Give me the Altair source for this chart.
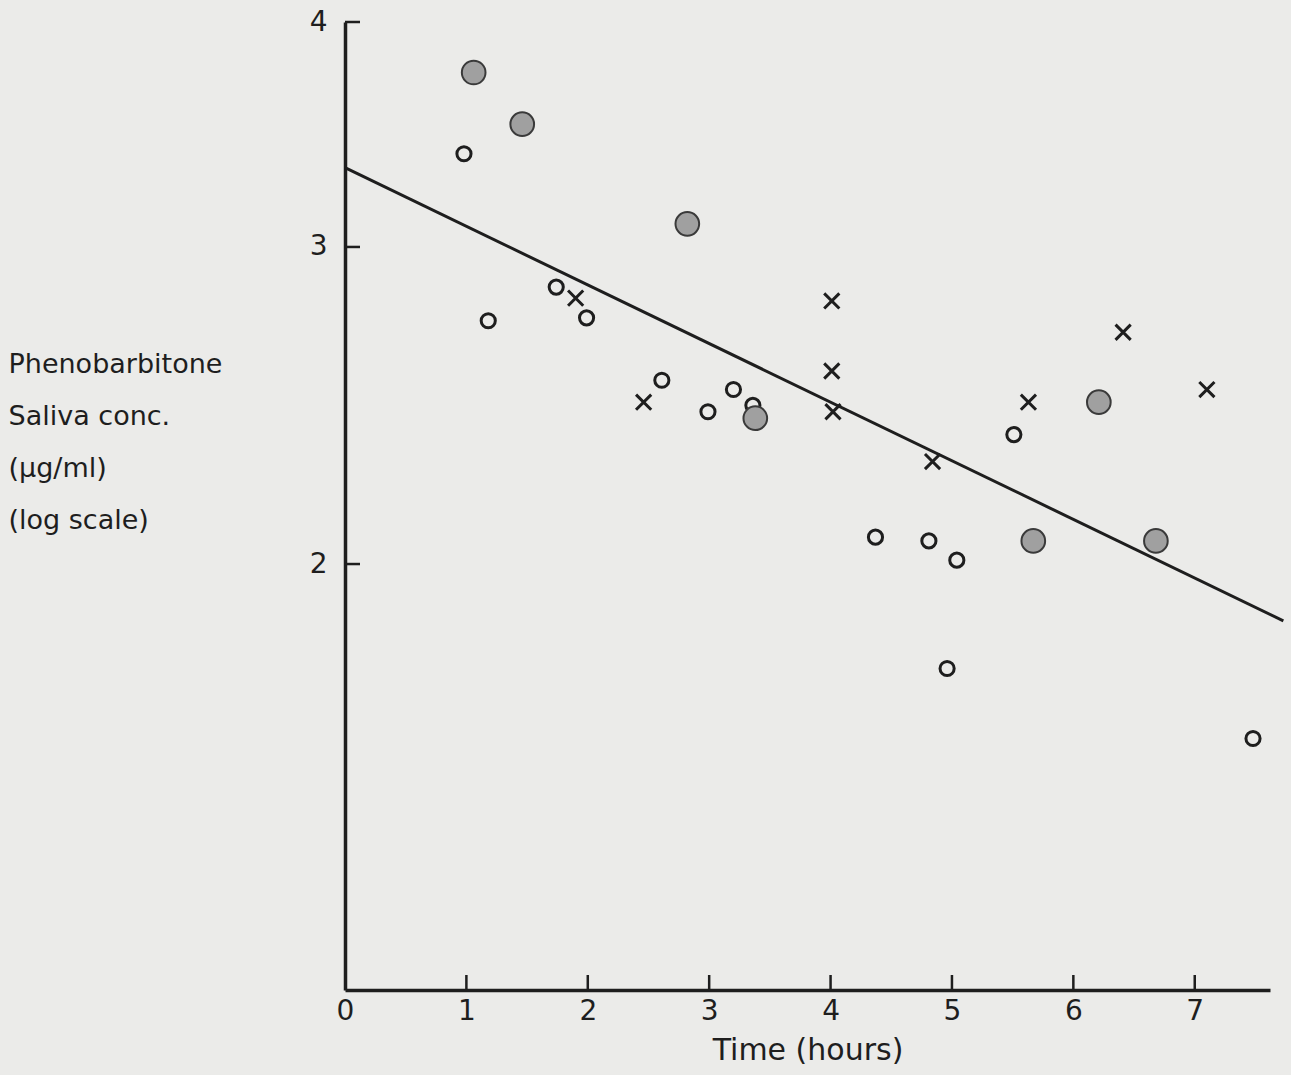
import altair as alt
import pandas as pd

# Saliva phenobarbitone concentration against time, three groups of subjects
filled_t = [1.06, 1.46, 2.82, 3.38, 5.67, 6.21, 6.68]
filled_c = [3.75, 3.51, 3.09, 2.41, 2.06, 2.46, 2.06]

open_t = [0.98, 1.18, 1.74, 1.99, 2.61, 2.99, 3.20, 3.36, 4.37, 4.81, 4.96, 5.04, 5.51, 7.48]
open_c = [3.38, 2.73, 2.85, 2.74, 2.53, 2.43, 2.50, 2.45, 2.07, 2.06, 1.75, 2.01, 2.36, 1.60]

cross_t = [1.90, 2.46, 4.01, 4.01, 4.02, 4.84, 5.63, 6.41, 7.10]
cross_c = [2.81, 2.46, 2.80, 2.56, 2.43, 2.28, 2.46, 2.69, 2.50]

# fitted regression line (straight on the log scale)
fit_t = [0.0, 7.73]
fit_c = [3.32, 1.86]

x_ticks = [0, 1, 2, 3, 4, 5, 6, 7]
x_tick_marks = [1, 2, 3, 4, 5, 6, 7]
y_ticks = [2, 3, 4]
y_title = ["Phenobarbitone", "Saliva conc.", "(\u00b5g/ml)", "(log scale)"]

INK = "#1e1e1e"
PAPER = "#ebebe9"
FONT = "DejaVu Sans"
W, H = 925, 968
TICK_LEN = 15

df_filled = pd.DataFrame({"t": filled_t, "c": filled_c})
df_open = pd.DataFrame({"t": open_t, "c": open_c})
df_cross = pd.DataFrame({"t": cross_t, "c": cross_c})
df_fit = pd.DataFrame({"t": fit_t, "c": fit_c})
df_xt = pd.DataFrame({"t": x_tick_marks})
df_yt = pd.DataFrame({"c": y_ticks})

x_scale = alt.Scale(domain=[0, 7.62], nice=False, zero=False)
y_scale = alt.Scale(type="log", domain=[1.16, 4], nice=False)

x_enc = alt.X(
    "t:Q",
    scale=x_scale,
    axis=alt.Axis(
        values=x_ticks,
        format="d",
        title="Time (hours)",
        titleFont=FONT,
        titleFontSize=30,
        titleFontWeight="normal",
        titleColor=INK,
        titlePadding=10,
        labelFont=FONT,
        labelFontSize=28,
        labelColor=INK,
        labelPadding=7,
        labelFlush=False,
        domainColor=INK,
        domainWidth=3.5,
        ticks=False,
        grid=False,
    ),
)

y_enc = alt.Y(
    "c:Q",
    scale=y_scale,
    axis=alt.Axis(
        values=y_ticks,
        format="d",
        title=y_title,
        titleFont=FONT,
        titleFontSize=27,
        titleFontWeight="normal",
        titleColor=INK,
        titleAngle=0,
        titleAlign="left",
        titleBaseline="alphabetic",
        titleX=-337,
        titleY=350,
        titleLineHeight=52,
        labelFont=FONT,
        labelFontSize=28,
        labelColor=INK,
        labelPadding=18,
        labelFlush=False,
        domainColor=INK,
        domainWidth=3.5,
        ticks=False,
        grid=False,
    ),
)

fit_line = alt.Chart(df_fit).mark_line(
    color=INK, strokeWidth=3, clip=False
).encode(x=x_enc, y=y_enc)

# inward-pointing tick marks on both axes
x_tick_rules = alt.Chart(df_xt).mark_rule(color=INK, strokeWidth=2.5).encode(
    x="t:Q", y=alt.value(H), y2=alt.value(H - TICK_LEN)
)
y_tick_rules = alt.Chart(df_yt).mark_rule(color=INK, strokeWidth=2.5).encode(
    y="c:Q", x=alt.value(0), x2=alt.value(TICK_LEN)
)

open_pts = alt.Chart(df_open).mark_point(
    shape="circle", filled=False, stroke=INK, strokeWidth=3, size=200, opacity=1
).encode(x="t:Q", y="c:Q")

cross_pts = alt.Chart(df_cross).mark_point(
    shape="M-1,-1L1,1M-1,1L1,-1", filled=False, stroke=INK, strokeWidth=3,
    size=230, opacity=1
).encode(x="t:Q", y="c:Q")

filled_pts = alt.Chart(df_filled).mark_point(
    shape="circle", filled=True, fill="#a0a0a0", stroke="#3a3a3a",
    strokeWidth=2, size=560, opacity=1, fillOpacity=1
).encode(x="t:Q", y="c:Q")

chart = (
    alt.layer(fit_line, x_tick_rules, y_tick_rules, open_pts, cross_pts, filled_pts)
    .properties(
        width=W,
        height=H,
        padding={"left": 345, "top": 22, "right": 21, "bottom": 85},
        autosize=alt.AutoSizeParams(type="none"),
        background=PAPER,
    )
    .configure_view(stroke=None)
)

chart.save("out.html", embed_options={"renderer": "svg", "actions": False})
